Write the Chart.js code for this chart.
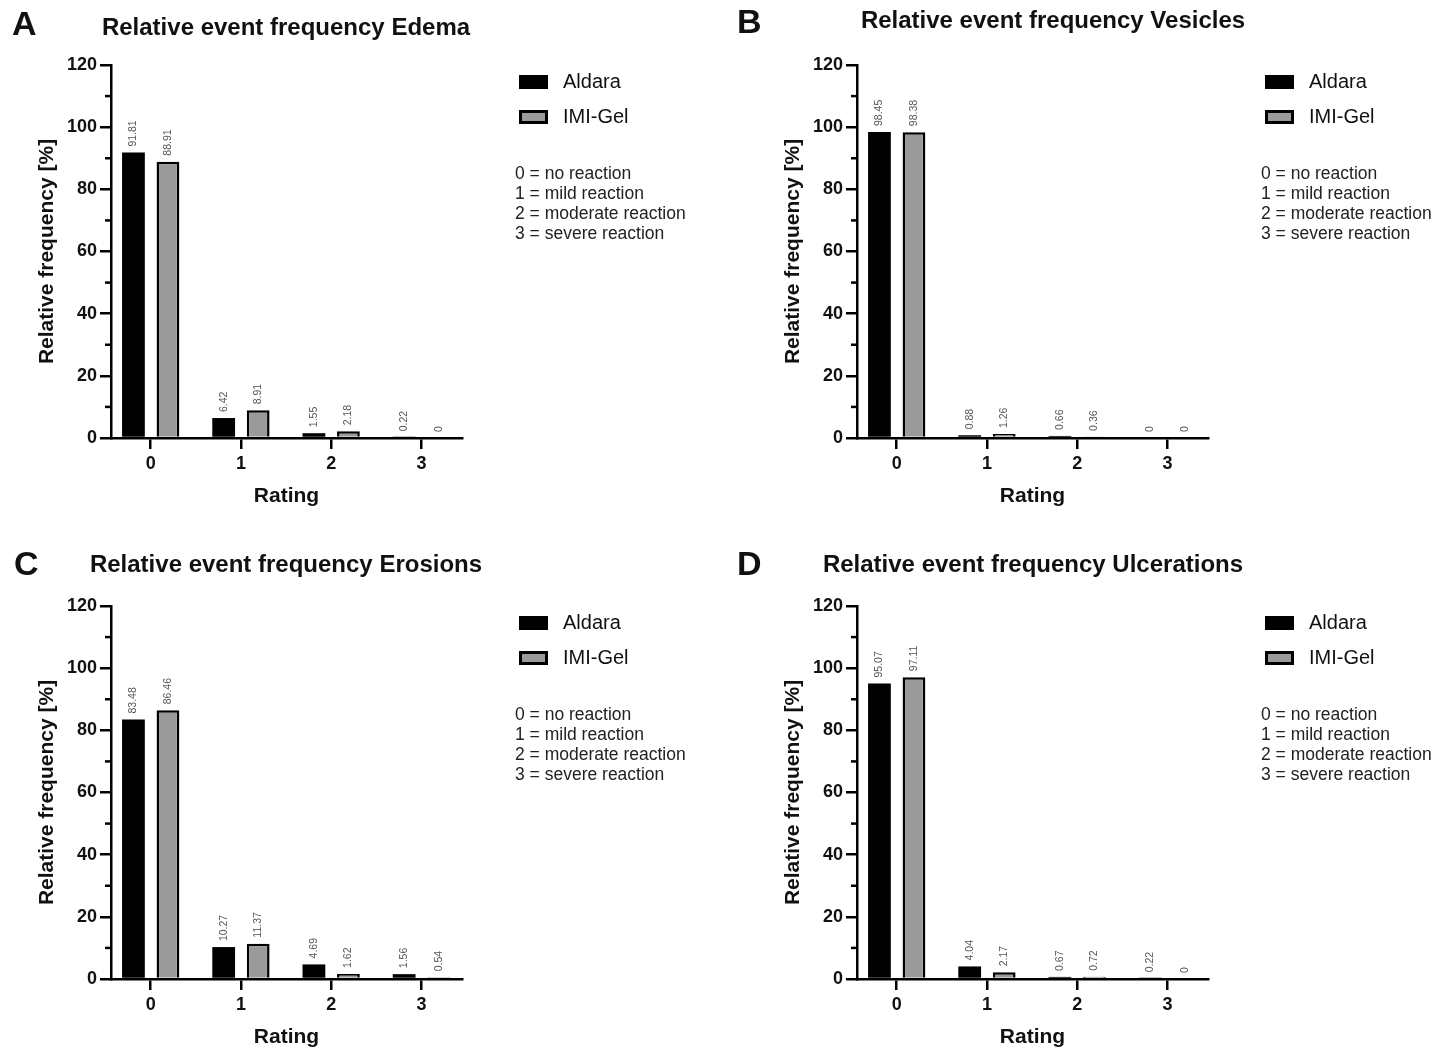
<!DOCTYPE html>
<html>
<head>
<meta charset="utf-8">
<title>Relative event frequency</title>
<script src="https://cdn.jsdelivr.net/npm/chart.js@4.4.1/dist/chart.umd.min.js"></script>
<style>
    html, body { margin: 0; padding: 0; background: #fff; overflow: hidden; }
    #figure { position: relative; width: 1441px; height: 1048px; }
    #figure canvas { position: absolute; left: 0; top: 0; }
</style>
</head>
<body>
<div id="figure">
    <canvas id="panel-a" width="1441" height="1100"></canvas>
    <canvas id="panel-b" width="1441" height="1100"></canvas>
    <canvas id="panel-c" width="1441" height="1100"></canvas>
    <canvas id="panel-d" width="1441" height="1100"></canvas>
</div>
<script>
// --- data ---
const ratings = ['0', '1', '2', '3'];
const yTicks = [0, 20, 40, 60, 80, 100, 120];
const ratingNotes = ['0 = no reaction', '1 = mild reaction', '2 = moderate reaction', '3 = severe reaction'];

const edemaAldara = [91.81, 6.42, 1.55, 0.22];
const edemaImiGel = [88.91, 8.91, 2.18, 0];
const vesiclesAldara = [98.45, 0.88, 0.66, 0];
const vesiclesImiGel = [98.38, 1.26, 0.36, 0];
const erosionsAldara = [83.48, 10.27, 4.69, 1.56];
const erosionsImiGel = [86.46, 11.37, 1.62, 0.54];
const ulcerationsAldara = [95.07, 4.04, 0.67, 0.22];
const ulcerationsImiGel = [97.11, 2.17, 0.72, 0];

const FONT = '"Liberation Sans", Arial, sans-serif';
const PAGE_W = 1441, PAGE_H = 1100;
const PLOT_W = 351, PLOT_H = 373;
const Y_AXIS_W = 80, X_AXIS_H = 80;

const panels = [
    { canvas: 'panel-a', letter: 'A', title: 'Relative event frequency Edema',
      aldara: edemaAldara, imiGel: edemaImiGel,
      axisX: 111, top: 65, letterX: 12, letterY: 26, titleX: 286, titleY: 28 },
    { canvas: 'panel-b', letter: 'B', title: 'Relative event frequency Vesicles',
      aldara: vesiclesAldara, imiGel: vesiclesImiGel,
      axisX: 857, top: 65, letterX: 737, letterY: 24, titleX: 1053, titleY: 21 },
    { canvas: 'panel-c', letter: 'C', title: 'Relative event frequency Erosions',
      aldara: erosionsAldara, imiGel: erosionsImiGel,
      axisX: 111, top: 606, letterX: 14, letterY: 566, titleX: 286, titleY: 565 },
    { canvas: 'panel-d', letter: 'D', title: 'Relative event frequency Ulcerations',
      aldara: ulcerationsAldara, imiGel: ulcerationsImiGel,
      axisX: 857, top: 606, letterX: 737, letterY: 566, titleX: 1033, titleY: 565 }
];

// minor ticks halfway between the labelled ones
const minorTicks = {
    id: 'minorTicks',
    afterDraw(chart) {
        const y = chart.scales.y;
        const ctx = chart.ctx;
        ctx.save();
        ctx.strokeStyle = '#000';
        ctx.lineWidth = 2.5;
        for (let i = 1; i < yTicks.length; i++) {
            const py = y.getPixelForValue((yTicks[i - 1] + yTicks[i]) / 2);
            ctx.beginPath();
            ctx.moveTo(y.right - 6, py);
            ctx.lineTo(y.right, py);
            ctx.stroke();
        }
        ctx.restore();
    }
};

// rotated value labels above every bar
const barValues = {
    id: 'barValues',
    afterDatasetsDraw(chart) {
        const ctx = chart.ctx;
        ctx.save();
        ctx.fillStyle = '#555';
        ctx.font = `10.5px ${FONT}`;
        ctx.textAlign = 'left';
        ctx.textBaseline = 'middle';
        chart.data.datasets.forEach((ds, di) => {
            chart.getDatasetMeta(di).data.forEach((bar, i) => {
                ctx.save();
                ctx.translate(bar.x, bar.y - 6);
                ctx.rotate(-Math.PI / 2);
                ctx.fillText(String(ds.data[i]), 0, 0);
                ctx.restore();
            });
        });
        ctx.restore();
    }
};

function panelDecor(panel) {
    return {
        id: 'panelDecor',
        afterDraw(chart) {
            const ctx = chart.ctx;
            const area = chart.chartArea;
            ctx.save();
            ctx.fillStyle = '#111';
            ctx.textBaseline = 'middle';
            ctx.textAlign = 'left';
            ctx.font = `bold 34px ${FONT}`;
            ctx.fillText(panel.letter, panel.letterX, panel.letterY);
            ctx.textAlign = 'center';
            ctx.font = `bold 24px ${FONT}`;
            ctx.fillText(panel.title, panel.titleX, panel.titleY);

            // legend
            const boxX = area.right + 57;
            ctx.textAlign = 'left';
            chart.data.datasets.forEach((ds, i) => {
                const cy = area.top + 17 + i * 35;
                ctx.fillStyle = ds.backgroundColor;
                ctx.fillRect(boxX, cy - 7, 29, 14);
                ctx.lineWidth = 3;
                ctx.strokeStyle = '#000';
                ctx.strokeRect(boxX + 1.5, cy - 5.5, 26, 11);
                ctx.fillStyle = '#111';
                ctx.font = `20px ${FONT}`;
                ctx.fillText(ds.label, boxX + 44, cy);
            });

            ctx.fillStyle = '#222';
            ctx.font = `17.5px ${FONT}`;
            ratingNotes.forEach((t, i) => {
                ctx.fillText(t, boxX - 4, area.top + 109 + i * 20.2);
            });
            ctx.restore();
        }
    };
}

function drawPanel(panel) {
    const ctx = document.getElementById(panel.canvas).getContext('2d');
    new Chart(ctx, {
        type: 'bar',
        data: {
            labels: ratings,
            datasets: [{
                label: 'Aldara',
                data: panel.aldara,
                backgroundColor: '#000',
                borderWidth: 0
            }, {
                label: 'IMI-Gel',
                data: panel.imiGel,
                backgroundColor: '#9a9a9a',
                borderColor: '#000',
                borderWidth: 2.5
            }]
        },
        options: {
            responsive: false,
            animation: false,
            events: [],
            categoryPercentage: 0.765,
            barPercentage: 0.66,
            layout: {
                padding: {
                    left: panel.axisX - Y_AXIS_W,
                    top: panel.top,
                    right: PAGE_W - panel.axisX - PLOT_W,
                    bottom: PAGE_H - panel.top - PLOT_H - X_AXIS_H
                }
            },
            plugins: {
                legend: { display: false },
                tooltip: { enabled: false }
            },
            scales: {
                x: {
                    type: 'linear',
                    min: -0.44,
                    max: 3.45,
                    offset: false,
                    afterBuildTicks: s => { s.ticks = ratings.map((r, i) => ({ value: i })); },
                    afterFit: s => { s.height = X_AXIS_H; },
                    grid: { offset: false, drawOnChartArea: false, drawTicks: true, tickLength: 11, lineWidth: 2.5, color: '#000' },
                    border: { display: true, color: '#000', width: 2.5 },
                    ticks: {
                        color: '#111',
                        padding: 4,
                        font: { family: FONT, size: 18, weight: 'bold' },
                        callback: v => ratings[v]
                    },
                    title: {
                        display: true,
                        text: 'Rating',
                        color: '#111',
                        font: { family: FONT, size: 21, weight: 'bold' },
                        padding: { top: 0, bottom: 9 }
                    }
                },
                y: {
                    min: 0,
                    max: 120,
                    afterBuildTicks: s => { s.ticks = yTicks.map(v => ({ value: v })); },
                    afterFit: s => { s.width = Y_AXIS_W; },
                    grid: { drawOnChartArea: false, drawTicks: true, tickLength: 11, lineWidth: 2.5, color: '#000' },
                    border: { display: true, color: '#000', width: 2.5 },
                    ticks: {
                        color: '#111',
                        padding: 3,
                        font: { family: FONT, size: 18, weight: 'bold' }
                    },
                    title: {
                        display: true,
                        text: 'Relative frequency [%]',
                        color: '#111',
                        font: { family: FONT, size: 21, weight: 'bold' },
                        padding: { top: 4, bottom: 0 }
                    }
                }
            }
        },
        plugins: [minorTicks, barValues, panelDecor(panel)]
    });
}

panels.forEach(drawPanel);
</script>
</body>
</html>
